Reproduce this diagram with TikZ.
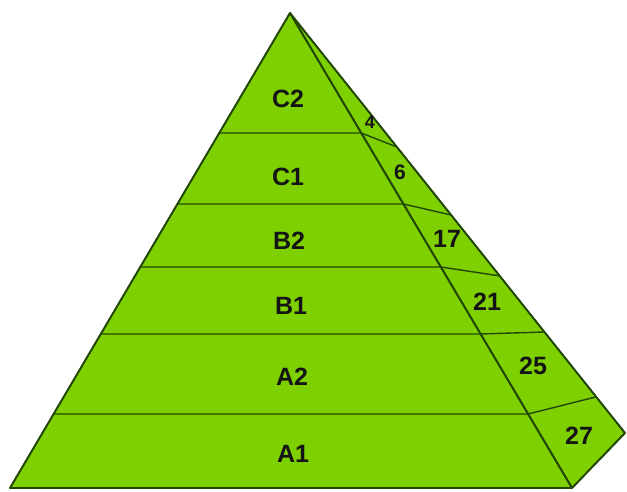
\documentclass[tikz,border=0pt]{standalone}
\usepackage{fontspec}
\setmainfont{Liberation Sans}
\usepackage{xcolor}
\usepackage{tikz}
\usetikzlibrary{calc}

\definecolor{leaf}{RGB}{126,208,0}
\definecolor{edge}{RGB}{35,72,6}

\begin{document}
\begin{tikzpicture}[
    x=1pt, y=-1pt,
    face/.style={fill=leaf, draw=edge, line width=1.7pt, line join=round},
    rowline/.style={draw=edge, line width=1.4pt},
    level/.style={font=\fontsize{25}{25}\selectfont\bfseries, text=black!92, inner sep=0pt},
    count/.style={font=\fontsize{25}{25}\selectfont\bfseries, text=black!92, inner sep=0pt},
]

\useasboundingbox (0,0) rectangle (627,492);

% ── corners ──
\coordinate (apex) at (290,13);
\coordinate (bl) at (10,488);
\coordinate (br) at (572,488);
\coordinate (far) at (625,433);

% ── faces ──
\path[face] (apex) -- (br) -- (far) -- cycle;
\path[face] (apex) -- (bl) -- (br) -- cycle;

% ── level lines (front face, then side face) ──
\draw[rowline] ($(apex)!0.2526!(bl)$) -- ($(apex)!0.2526!(br)$) -- ($(apex)!0.319!(far)$);
\draw[rowline] ($(apex)!0.4021!(bl)$) -- ($(apex)!0.4021!(br)$) -- ($(apex)!0.481!(far)$);
\draw[rowline] ($(apex)!0.5347!(bl)$) -- ($(apex)!0.5347!(br)$) -- ($(apex)!0.626!(far)$);
\draw[rowline] ($(apex)!0.6758!(bl)$) -- ($(apex)!0.6758!(br)$) -- ($(apex)!0.7595!(far)$);
\draw[rowline] ($(apex)!0.8442!(bl)$) -- ($(apex)!0.8442!(br)$) -- ($(apex)!0.914!(far)$);

% ── outline again on top ──
\draw[face, fill=none] (apex) -- (bl) -- (br) -- (far) -- cycle;
\draw[face, fill=none] (apex) -- (br);

% ── level names ──
\node[level] (c2) at (288,99) {C2};
\node[level] (c1) at (288,177) {C1};
\node[level] (b2) at (289,241) {B2};
\node[level] (b1) at (291,306) {B1};
\node[level] (a2) at (292,377) {A2};
\node[level] (a1) at (293,454) {A1};

% ── counts ──
\node[count, font=\fontsize{18}{18}\selectfont\bfseries] (n4) at (370,122) {4};
\node[count, font=\fontsize{21}{21}\selectfont\bfseries] (n6) at (400,172) {6};
\node[count] (n17) at (447,239) {17};
\node[count] (n21) at (487,302) {21};
\node[count] (n25) at (533,366) {25};
\node[count] (n27) at (579,436) {27};

\end{tikzpicture}
\end{document}
